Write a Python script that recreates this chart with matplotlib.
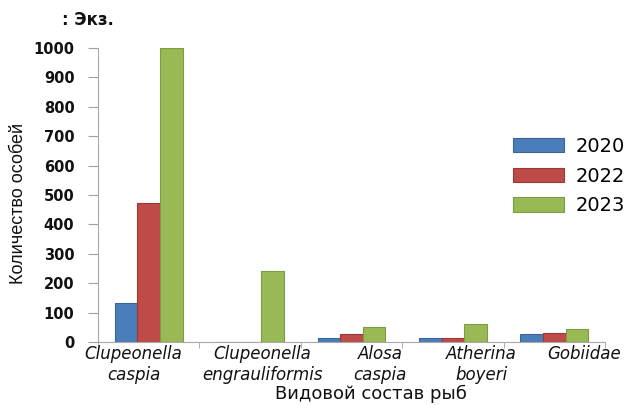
import matplotlib
matplotlib.use("Agg")
import matplotlib.pyplot as plt
import numpy as np
from matplotlib.patches import Patch
import matplotlib.transforms as mtransforms

categories = ["Clupeonella\ncaspia", "Clupeonella\nengrauliformis", "Alosa\ncaspia",
              "Atherina\nboyeri", "Gobiidae"]
years = ["2020", "2022", "2023"]
v2020 = [133, 0, 12, 12, 26]
v2022 = [473, 0, 26, 12, 32]
v2023 = [1000, 241, 52, 60, 43]
yticks = [0, 100, 200, 300, 400, 500, 600, 700, 800, 900, 1000]

colors = ["#4A7EBB", "#BE4B48", "#98B954"]
edges = ["#3A6496", "#953A38", "#7D9A44"]

fig = plt.figure(figsize=(6.31, 4.05), dpi=100)
ax = fig.add_axes([98/631, 1-342/405, (605-98)/631, (342-48)/405])

x = np.arange(len(categories))
w = 0.223
for i, (vals, c, e) in enumerate(zip([v2020, v2022, v2023], colors, edges)):
    ax.bar(x + (i-1)*w, vals, w, color=c, edgecolor=e, linewidth=0.8, label=years[i])

ax.set_xlim(-0.5, len(categories)-0.5)
ax.set_ylim(0, 1000)
ax.set_yticks(yticks)
ax.set_yticklabels([str(t) for t in yticks], fontsize=10.5, fontweight="bold",
                   family="DejaVu Sans", color="#111111")
ax.set_xticks([])
ax.set_xticks(np.arange(-0.5, len(categories)), minor=True)
ax.tick_params(axis="x", which="minor", length=4, color="#A0A0A0", direction="out")
ax.tick_params(axis="y", length=7, color="#A0A0A0", direction="out", pad=10)
for s in ["top", "right"]:
    ax.spines[s].set_visible(False)
ax.spines["left"].set_color("#A8A8A8")
ax.spines["bottom"].set_color("#A8A8A8")

offsets = [-0.15, 0.12, 0.28, 0.28, 0.29]
trans = mtransforms.blended_transform_factory(ax.transData, fig.transFigure)
for xi, (lab, off) in enumerate(zip(categories, offsets)):
    ax.text(xi + off, 1-345/405, lab, transform=trans, ha="center", va="top",
            fontsize=12, style="italic", family="DejaVu Sans", linespacing=1.25,
            color="#111111")

fig.text(371/631, 2/405, "Видовой состав рыб", ha="center", va="bottom",
         fontsize=13, family="DejaVu Sans", color="#111111")
fig.text(19/631, 1-203/405, "Количество особей", rotation=90, ha="center", va="center",
         fontsize=13, family=["Liberation Sans Narrow", "Liberation Sans", "DejaVu Sans"],
         fontstretch="condensed", color="#111111")
fig.text(62/631, 1-20/405, ": Экз.", ha="left", va="center", fontsize=12,
         fontweight="bold", family="DejaVu Sans", color="#111111")

handles = [Patch(facecolor=c, edgecolor=e, linewidth=0.8) for c, e in zip(colors, edges)]
leg = fig.legend(handles, years, loc="upper left", bbox_to_anchor=(513/631, 1-137/405),
                 frameon=False, fontsize=14, handlelength=2.6, handleheight=0.75,
                 labelspacing=0.55, handletextpad=0.6, borderaxespad=0,
                 borderpad=0)

fig.savefig("out.png", dpi=100)
